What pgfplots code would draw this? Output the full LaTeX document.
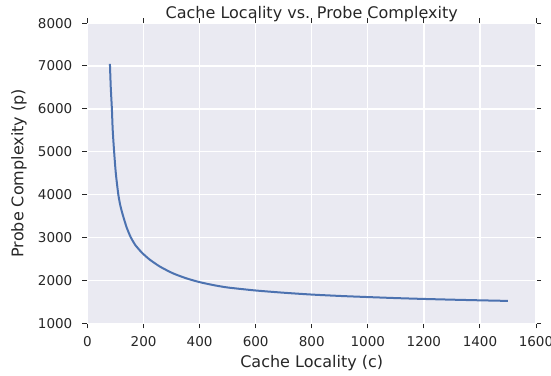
\documentclass[border=0pt]{standalone}
\usepackage{pgfplots}
\pgfplotsset{compat=1.18}
\usepackage{fontspec}
\setmainfont{DejaVu Sans}
\definecolor{bgc}{HTML}{EAEAF2}
\definecolor{txt}{HTML}{262626}
\definecolor{sblue}{HTML}{4C72B0}
\begin{document}
\begin{tikzpicture}
\begin{axis}[
 scale only axis, width=448.5pt, height=300.2pt,
 xmin=0, xmax=1600, ymin=1000, ymax=8000,
 clip mode=individual,
 xtick={0,200,...,1600}, ytick={1000,2000,...,8000},
 axis background/.style={fill=bgc},
 axis line style={white, line width=1.2pt},
 grid=major, major grid style={white, line width=1.3pt},
 tick align=outside, tick pos=both,
 major tick length=5pt,
 every tick/.style={draw=txt, line width=1pt},
 /pgf/number format/assume math mode=true,
 /pgf/number format/set thousands separator={},
 ticklabel style={font=\fontsize{13.5}{16}\selectfont, text=txt},
 xticklabel style={anchor=north, inner sep=0pt, yshift=-8pt},
 yticklabel style={anchor=east, inner sep=0pt, xshift=-10pt},
 xlabel={Cache Locality (c)}, ylabel={Probe Complexity (p)},
 label style={font=\fontsize{16}{19}\selectfont, text=txt},
 xlabel style={at={(axis description cs:0.5,-0.134)}, anchor=center},
 ylabel style={at={(axis description cs:-0.1527,0.5)}, anchor=center},
]
\addplot[sblue, line width=2pt, smooth, tension=0.4] table {
x y
80 7050
83 6500
87 6000
90 5500
95 5000
101 4500
110 4000
118 3720
128 3480
140 3230
154 3010
170 2830
188 2690
200 2610
223 2480
259 2320
305 2165
352 2050
400 1960
450 1890
500 1835
600 1765
700 1713
800 1670
900 1638
1000 1612
1100 1588
1200 1568
1300 1551
1400 1536
1500 1522
};
\end{axis}
\node[anchor=base, font=\fontsize{16}{19}\selectfont, text=txt] at ([yshift=5pt]current axis.north) {Cache Locality vs. Probe Complexity};
\pgfresetboundingbox
\path[use as bounding box] (-87.5pt,-51.7pt) rectangle (463.5pt,323.3pt);
\end{tikzpicture}
\end{document}
